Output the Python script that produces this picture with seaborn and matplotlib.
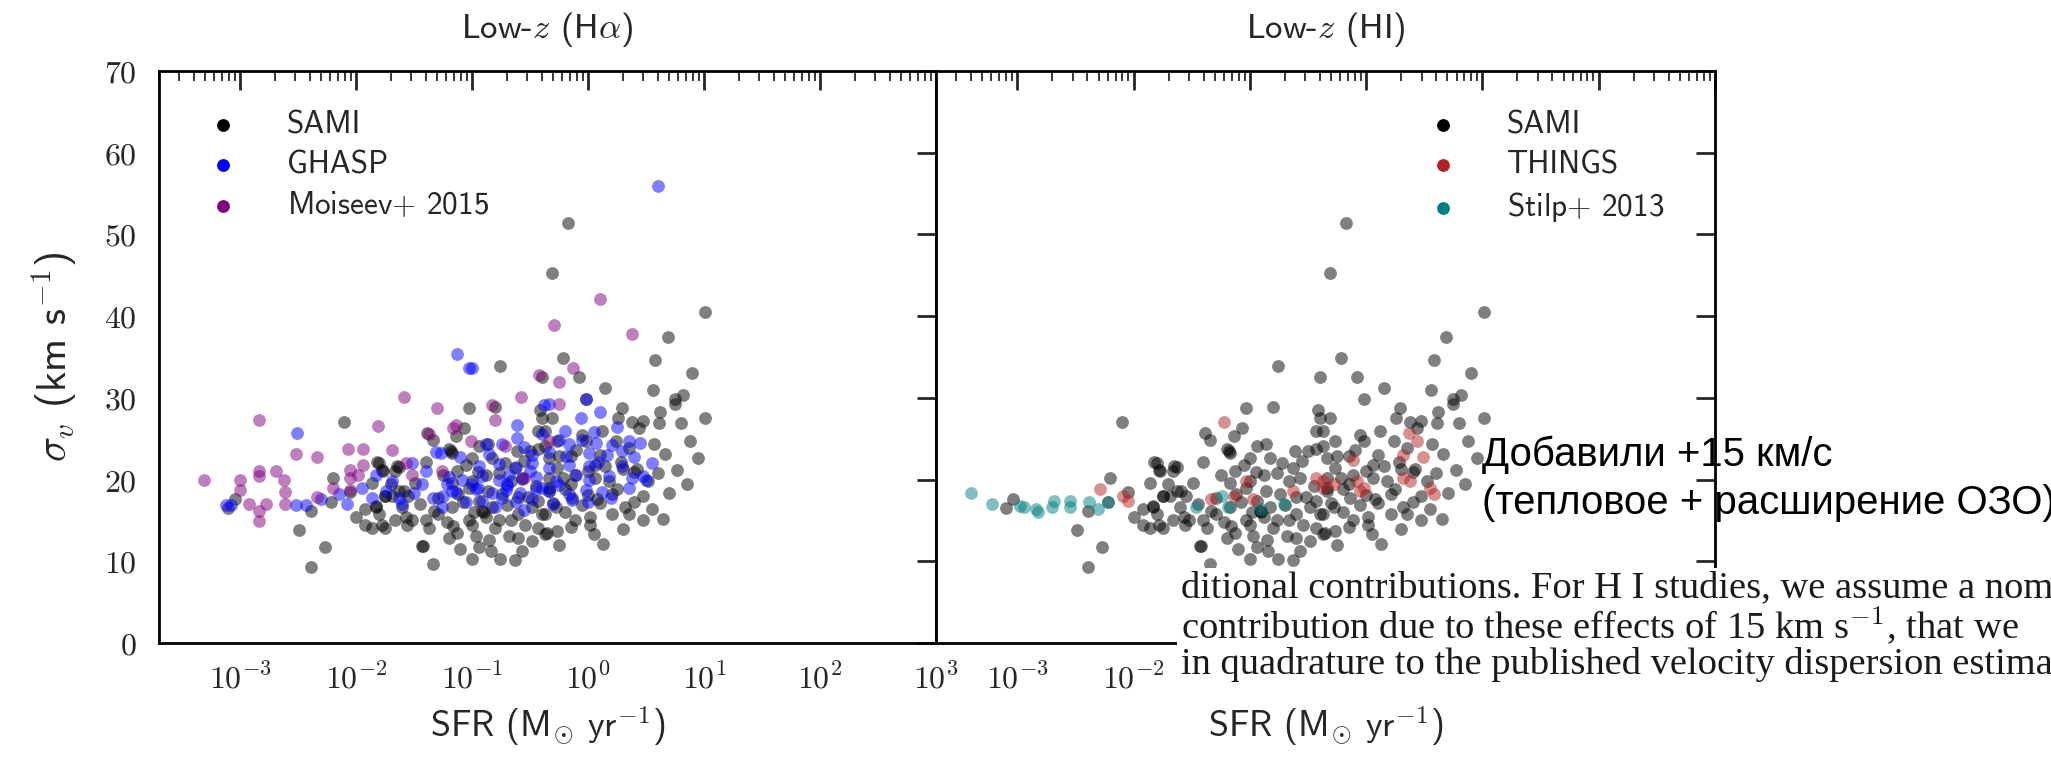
import numpy as np
import pandas as pd
import matplotlib
matplotlib.use("Agg")
import matplotlib.pyplot as plt
from matplotlib.ticker import LogLocator, FuncFormatter, MultipleLocator, NullLocator
from matplotlib.patches import Rectangle
import seaborn as sns

# ---------------- data (log10 SFR, sigma_v in km/s) ----------------
sami_logsfr = [-0.17, -0.31, 1.01, 0.69, 0.58, 0.90, -0.22, -0.76, -0.40, -0.08, 0.15, 0.56,
               -1.03, -0.80, -1.07, -1.39, -1.34, -1.14, -1.20, -1.17, -1.40, -1.82, -1.78, -1.63,
               -0.94, -0.86, -1.00, -0.83, -0.61, -0.50, -0.41, -0.40, -0.43, -0.37, -0.43, -0.34,
               -1.13, -1.00, -0.88, -0.77, -0.63, -0.57, -0.66, -1.49, -1.59, -1.69, -1.75, -1.83,
               -1.80, -1.63, -1.55, -1.57, -1.52, -1.17, -1.29, -1.12, -1.03, -0.94, -0.86, -0.74,
               -1.40, -1.37, -1.29, -1.17, -1.03, -1.00, -0.91, -0.83, -0.77, -0.66, -0.80, -1.13,
               -0.97, -1.42, -1.10, -0.94, -1.00, -0.84, -0.76, -0.63, -0.57, -1.34, -0.68, -0.60,
               -0.54, -0.48, -0.43, -0.37, -0.43, -0.48, -0.37, -1.86, -1.75, -0.34, -0.34,
               0.75, 0.75, -0.02, 1.01, 0.80, 0.61, 0.29, 0.26, 0.38, 0.47, 0.44, 0.88, 0.57,
               -0.31, -0.37, -0.27, -0.05, -0.02, 0.12, 0.24, 0.35, 0.77, 0.70, 0.47, 0.52, 0.18,
               0.21, 0.06, -0.27, -0.14, 0.32, 0.21, 0.35, 0.47, 0.02, 0.02, -0.11, -0.27, -0.35,
               0.05, 0.13, -0.40, -0.28, -0.34, -0.22, -0.11, 0.06,
               -3.04, -3.10, -2.49, -2.27, -2.39, -1.80, -1.77, -1.86, -2.00, -1.92, -1.83, -1.75,
               -1.92, -1.78, -1.66, -2.10, -2.39, -2.22, -1.65, -1.43, -1.66, -1.56, -1.18, -1.16,
               -0.20, 0.10, 0.30, -0.60, -0.90, 0.40, 0.00, -0.15,
               -1.25, -1.05, -0.95, -0.72, -0.55, -0.25, -0.10, 0.10, 0.28, 0.42, 0.60, 0.66,
               -1.45, -1.33, -1.22, -1.08, -0.98, -0.88, -0.70, -0.52, -0.30, -0.20, -0.05, 0.08,
               0.25, 0.40, 0.55, 0.65, -0.15, -0.60, -0.85, -1.20, -0.25, 0.30, -1.60, -1.70,
               -2.05, -2.20, -0.45, -0.15, 0.00, 0.15, 0.85, 0.95, 0.62, 0.82]
sami_sigma = [51.4, 45.3, 40.5, 37.5, 34.6, 33.1, 34.9, 33.9, 32.6, 32.6, 31.2, 31.0,
              28.8, 28.9, 26.3, 25.7, 24.9, 25.3, 23.7, 23.3, 22.2, 22.2, 21.2, 21.5,
              24.1, 24.3, 22.6, 22.6, 23.5, 23.5, 28.5, 27.5, 25.9, 24.1, 23.7, 22.6,
              21.0, 19.8, 20.6, 20.8, 21.4, 20.2, 19.8, 19.6, 18.6, 18.0, 18.0, 16.8,
              15.8, 18.6, 18.0, 15.4, 15.0, 19.6, 17.8, 18.2, 19.0, 17.4, 18.6, 18.2,
              15.0, 14.1, 15.8, 16.6, 15.0, 14.5, 16.2, 16.6, 15.0, 15.0, 14.1, 13.5,
              13.1, 11.9, 11.5, 11.7, 10.3, 11.3, 10.3, 10.1, 11.3, 9.7, 13.1, 15.8,
              14.5, 16.6, 17.4, 15.8, 14.1, 12.5, 13.3, 14.1, 14.1, 20.2, 18.6,
              29.9, 29.3, 29.9, 27.5, 26.9, 26.9, 28.7, 27.5, 27.1, 27.2, 26.3, 24.7, 24.3,
              27.5, 25.9, 24.7, 25.5, 24.7, 25.9, 24.7, 23.9, 21.2, 18.4, 18.0, 19.8, 19.8,
              18.2, 21.8, 21.4, 17.8, 16.6, 15.8, 15.8, 15.0, 15.4, 14.5, 15.0, 13.7, 13.5,
              13.3, 12.1, 15.8, 16.6, 19.0, 20.2, 20.6, 20.2,
              17.6, 16.5, 13.8, 11.8, 16.2, 22.0, 21.0, 19.6, 15.4, 16.4, 16.6, 18.0,
              14.5, 14.5, 21.0, 27.1, 9.3, 17.2, 21.6, 11.9, 15.1, 14.5, 23.5, 14.3,
              18.9, 17.1, 21.3, 17.9, 16.0, 20.9, 18.1, 22.9,
              20.5, 21.8, 20.9, 22.0, 22.3, 22.9, 23.6, 23.0, 22.1, 21.3, 20.8, 23.1,
              17.0, 16.2, 14.8, 17.2, 16.0, 15.4, 16.9, 17.9, 17.1, 16.0, 16.9, 17.6,
              18.9, 17.3, 16.4, 15.2, 14.2, 12.8, 12.6, 12.9, 12.0, 14.0, 16.6, 19.5,
              18.5, 20.2, 19.2, 19.4, 21.0, 21.7, 19.4, 22.6, 28.3, 30.4]

ghasp_logsfr = [0.60, -1.13, -1.03, -1.00, -2.51, -3.12, -3.08, -2.52, -2.43, -2.30, -2.08,
                -1.31, -1.27, -1.52, -1.83, -1.86, -1.74, -1.63, -1.60, -1.43, -1.34, -1.22,
                -1.17, -1.26, -1.69, -0.02, 0.10, -0.06, -0.38, -0.34, -0.61, -0.61, -0.88,
                -0.74, -0.25, -0.16, -0.05, 0.07, 0.21, 0.35, -0.48, -0.34, -0.19, 0.01, 0.16,
                0.29, 0.40, -0.94, -0.77, -0.62, -0.48, -0.34, -0.16, 0.01, 0.09, 0.29, -1.20,
                -1.09, -0.91, -0.77, -0.68, -0.57, -0.45, -0.28, -0.10, 0.01, 0.18, 0.38, 0.50,
                -1.14, -0.97, -0.83, -0.71, -0.59, -0.45, -0.34, -0.16, -0.02, 0.12, -0.91,
                -0.74, -0.62, -0.48, -0.14, 0.47, -0.70, -0.40, -1.00,
                -1.40, -1.10, -0.85, -0.55, -0.40, -0.20, 0.05, 0.25, -1.05, -0.80, -0.55,
                -0.30, 0.00, 0.20, 0.35, -0.25, -0.50, -0.70, -0.95, -1.25, -1.50, -1.95,
                -2.15, 0.55, 0.45]
ghasp_sigma = [55.9, 35.4, 33.6, 33.6, 25.7, 16.9, 16.9, 16.9, 16.9, 17.6, 17.0,
               23.4, 23.2, 22.0, 20.6, 17.7, 18.6, 17.8, 17.0, 19.4, 17.8, 19.4,
               18.6, 16.6, 19.8, 29.9, 28.3, 27.5, 29.1, 29.3, 26.7, 25.1, 24.4,
               24.4, 24.8, 24.3, 24.9, 24.5, 24.2, 24.7, 23.0, 23.4, 22.9, 23.3, 23.0,
               23.5, 22.8, 21.6, 21.9, 21.5, 22.0, 21.4, 21.8, 21.6, 22.1, 21.7, 20.3,
               20.0, 20.4, 19.9, 20.5, 20.1, 20.3, 19.8, 20.6, 20.0, 20.4, 20.2, 19.9,
               18.5, 18.8, 18.4, 18.7, 18.3, 18.9, 18.6, 18.2, 18.7, 18.5, 17.4,
               17.7, 17.3, 17.6, 17.5, 20.4, 19.2, 19.0, 19.5,
               21.0, 22.8, 23.1, 24.0, 25.6, 26.0, 25.8, 26.4, 17.2, 16.6, 16.3,
               17.0, 17.2, 17.8, 19.0, 19.3, 21.0, 19.4, 19.0, 18.0, 18.3, 19.0,
               18.2, 22.0, 24.5]

moiseev_logsfr = [-3.31, -2.84, -3.00, -3.00, -2.84, -2.84, -2.69, -2.62, -2.61, -2.61, -2.92,
                  -2.78, -2.84, -2.84, -2.52, -2.34, -2.34, -2.20, -2.07, -1.94, -2.05, -1.94,
                  -2.05, -1.98, -2.05, -1.81, -1.69, -1.59, -1.30, -1.57, -1.37, -1.26, -1.16,
                  -1.52, 0.10, -0.29, 0.38, -0.13, -0.25, -0.42, -0.58, -0.83, -0.80, -0.25,
                  -1.01, -0.72, -1.14, -0.34, -0.55]
moiseev_sigma = [20.0, 27.3, 19.9, 18.7, 21.0, 20.4, 21.0, 20.0, 18.5, 17.0, 17.0,
                 17.0, 16.1, 14.9, 23.1, 22.8, 17.9, 19.0, 23.8, 23.8, 21.2, 21.8,
                 20.2, 20.6, 18.7, 26.6, 23.6, 30.1, 28.8, 22.0, 25.6, 21.0, 26.3,
                 20.5, 42.1, 38.9, 37.8, 33.7, 32.0, 32.8, 30.1, 29.1, 27.3, 29.3,
                 24.7, 24.1, 26.7, 24.7, 20.2]

things_logsfr = [-2.29, -2.09, -2.05, -1.22, -1.03, -1.33, -1.14, -0.97, -0.63, -0.43, -0.37,
                 0.32, 0.49, -0.02, -0.11, 0.32, 0.38, 0.58, -0.37, -0.28, -0.08, -0.05, 0.44,
                 0.55, 0.37]
things_sigma = [18.8, 18.0, 17.4, 27.0, 19.8, 17.6, 18.0, 17.6, 18.6, 20.2, 19.0,
                23.0, 22.8, 19.0, 22.4, 20.2, 19.8, 18.2, 19.8, 19.4, 19.8, 18.6, 24.7,
                19.0, 25.7]

stilp_logsfr = [-3.40, -3.22, -2.98, -2.94, -2.84, -2.82, -2.68, -2.70, -2.55, -2.55, -2.38,
                -2.31, -2.22, -1.46, -1.24, -1.19, -0.90, -0.71]
stilp_sigma = [18.3, 17.0, 16.8, 16.6, 16.4, 16.0, 17.4, 16.6, 17.4, 16.6, 17.2,
               16.4, 17.2, 16.6, 18.0, 16.6, 16.4, 17.0]

panel_titles = [r"Low-$z$ (H$\alpha$)", r"Low-$z$ (HI)"]
xlabel = r"SFR (M$_{\odot}$ yr$^{-1}$)"
ylabel = r"$\sigma_v$ (km s$^{-1}$)"
ru_lines = ["Добавили +15 км/с", "(тепловое + расширение ОЗО)"]
paper_lines = ["ditional contributions. For H I studies, we assume a nom",
               r"contribution due to these effects of 15 km s$^{-1}$, that we",
               "in quadrature to the published velocity dispersion estima"]

# ---------------- style ----------------
sns.set_style("white")
plt.rcParams["font.family"] = ["cmss10", "DejaVu Sans"]
plt.rcParams["mathtext.fontset"] = "cm"
plt.rcParams["axes.unicode_minus"] = False

W, H = 2051, 758
fig = plt.figure(figsize=(W / 100, H / 100), dpi=100)
ax1 = fig.add_axes([159 / W, 115 / H, 777 / W, 572 / H])
ax2 = fig.add_axes([936 / W, 115 / H, 779 / W, 572 / H])

def sdf(lx, sy):
    return pd.DataFrame({"sfr": np.power(10.0, lx), "sigma": sy})

kw = dict(x="sfr", y="sigma", s=85, linewidth=0, alpha=0.5)
sns.scatterplot(data=sdf(sami_logsfr, sami_sigma), color="k", label="SAMI", ax=ax1, **kw)
sns.scatterplot(data=sdf(ghasp_logsfr, ghasp_sigma), color="blue", label="GHASP", ax=ax1, **kw)
sns.scatterplot(data=sdf(moiseev_logsfr, moiseev_sigma), color="purple", label=r"Moiseev$+$ 2015", ax=ax1, **kw)

sns.scatterplot(data=sdf(sami_logsfr, sami_sigma), color="k", label="SAMI", ax=ax2, **kw)
sns.scatterplot(data=sdf(things_logsfr, things_sigma), color="firebrick", label="THINGS", ax=ax2, **kw)
sns.scatterplot(data=sdf(stilp_logsfr, stilp_sigma), color="teal", label=r"Stilp$+$ 2013", ax=ax2, **kw)

def xfmt_left(v, p):
    return r"$10^{%d}$" % int(round(np.log10(v)))

def xfmt_right(v, p):
    e = int(round(np.log10(v)))
    return r"$10^{%d}$" % e if e <= -2 else ""

for i, ax in enumerate([ax1, ax2]):
    ax.set_xscale("log")
    ax.set_xlim(2e-4, 1e3)
    ax.set_ylim(0, 70)
    ax.xaxis.set_major_locator(LogLocator(base=10, numticks=30))
    ax.xaxis.set_minor_locator(LogLocator(base=10, subs=np.arange(2, 10), numticks=100))
    ax.xaxis.set_major_formatter(FuncFormatter(xfmt_left if i == 0 else xfmt_right))
    ax.yaxis.set_major_locator(MultipleLocator(10))
    ax.yaxis.set_minor_locator(NullLocator())
    ax.yaxis.set_major_formatter(FuncFormatter(lambda v, p: r"$%d$" % int(v)))
    ax.tick_params(which="major", direction="in", length=14, width=2,
                   top=True, right=True, labelsize=23, pad=14)
    ax.tick_params(axis="y", which="major", pad=16)
    ax.tick_params(which="minor", direction="in", length=7, width=1.3, top=True, right=True)
    for sp in ax.spines.values():
        sp.set_linewidth(2)
        sp.set_color("k")
    ax.set_title(panel_titles[i], fontsize=25, pad=24)
    ax.set_xlabel(xlabel, fontsize=26, labelpad=8)
    ax.grid(False)

ax1.set_ylabel(ylabel, fontsize=30)
ax1.yaxis.set_label_coords(-0.102, 0.5)
ax2.set_ylabel("")
ax2.tick_params(axis="y", labelleft=False)

LFS = 22.5
F = LFS * 100 / 72.0
HL = 0.8
HP = (64 - HL * F / 2) / F
leg_kw = dict(fontsize=LFS, frameon=False, handlelength=HL, handletextpad=HP,
              labelspacing=0.36, borderpad=0.0, borderaxespad=0.0, loc="upper left")
l1 = ax1.legend(bbox_to_anchor=((223 - HL * F / 2 - 159) / 777, (643 - 110) / 572), **leg_kw)
l2 = ax2.legend(bbox_to_anchor=((1443 - HL * F / 2 - 936) / 779, (643 - 110) / 572), **leg_kw)
for lg in (l1, l2):
    for h in lg.legend_handles:
        h.set_alpha(1)

# ---------------- overlaid annotations ----------------
fig.patches.append(Rectangle((1177 / W, 1 - 705 / H), 1.0, (705 - 568) / H,
                             transform=fig.transFigure, facecolor="white",
                             edgecolor="none", zorder=10))

def fit_width(t, target_px):
    fig.canvas.draw()
    r = fig.canvas.get_renderer()
    w = t.get_window_extent(r).width
    t.set_fontsize(t.get_fontsize() * target_px / w)
    return t.get_fontsize()

ptexts = []
for k, ln in enumerate(paper_lines):
    ptexts.append(fig.text(1181 / W, 1 - (588 + 38 * k) / H, ln, fontsize=26, va="center",
                           ha="left", family=["Liberation Serif", "DejaVu Serif"],
                           color="#1a1a1a", zorder=11))
pfs = fit_width(ptexts[0], 2051 - 1181)
for t in ptexts[1:]:
    t.set_fontsize(pfs)

rtexts = []
for k, ln in enumerate(ru_lines):
    rtexts.append(fig.text(1482 / W, 1 - (455 + 48.5 * k) / H, ln, fontsize=28, va="center",
                           ha="left", family=["Liberation Sans", "DejaVu Sans"],
                           color="k", zorder=12))
rfs = fit_width(rtexts[0], 1833 - 1482)
rtexts[1].set_fontsize(rfs)

fig.savefig("out.png", dpi=100)
